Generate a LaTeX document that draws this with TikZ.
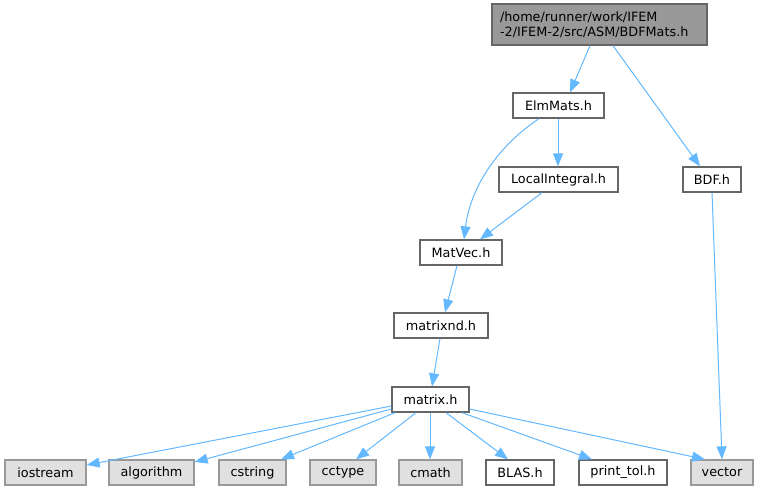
\documentclass[tikz,border=0pt]{standalone}
\usepackage{fontspec}
\setmainfont{DejaVu Sans}
\usetikzlibrary{arrows.meta}
\definecolor{edgeblue}{HTML}{63B8FF}
\definecolor{grayfill}{HTML}{E0E0E0}
\definecolor{grayborder}{HTML}{999999}
\definecolor{darkborder}{HTML}{666666}
\definecolor{topfill}{HTML}{999999}
\tikzset{
  box/.style={draw=darkborder, fill=white, line width=1.3pt, inner sep=0pt, minimum height=25pt, font=\fontsize{12.8}{15.5}\selectfont, text=black},
  sysbox/.style={box, draw=grayborder, fill=grayfill},
  topbox/.style={box, fill=topfill, draw=darkborder},
  edge/.style={draw=edgeblue, line width=1pt, -{Triangle[length=13pt,width=10pt]}},
}
\begin{document}
\begin{tikzpicture}[x=1pt,y=-1pt]
\useasboundingbox (0,0) rectangle (759,491);
\node[topbox, minimum width=215pt, minimum height=41pt, inner xsep=8pt, text width=199pt, align=left] (top) at (599.5,24.5) {/home/runner/work/IFEM\\-2/IFEM-2/src/ASM/BDFMats.h};
\node[box, minimum width=91pt] (elm) at (558.5,105.5) {ElmMats.h};
\node[box, minimum width=119pt] (loc) at (558.5,179.5) {LocalIntegral.h};
\node[box, minimum width=58pt] (bdf) at (712,179.5) {BDF.h};
\node[box, minimum width=82pt] (matvec) at (461,252.5) {MatVec.h};
\node[box, minimum width=94pt] (matnd) at (441,325.5) {matrixnd.h};
\node[box, minimum width=77pt] (matrix) at (430.5,399.5) {matrix.h};
\node[sysbox, minimum width=81pt] (iostream) at (45.5,472.5) {iostream};
\node[sysbox, minimum width=85pt] (algorithm) at (151.5,472.5) {algorithm};
\node[sysbox, minimum width=67pt] (cstring) at (252.5,472.5) {cstring};
\node[sysbox, minimum width=66pt] (cctype) at (343,472.5) {cctype};
\node[sysbox, minimum width=63pt] (cmath) at (430.5,472.5) {cmath};
\node[box, minimum width=68pt] (blas) at (520,472.5) {BLAS.h};
\node[box, minimum width=88pt] (printtol) at (623,472.5) {print\_tol.h};
\node[sysbox, minimum width=62pt] (vector) at (722,472.5) {vector};

\draw[edge] (top.south -| 590,0) -- (elm.north -| 570,0);
\draw[edge] (top.south -| 613,0) -- (bdf.north -| 700,0);
\draw[edge] (elm.south -| 558,0) -- (loc.north -| 558,0);
\draw[edge] (elm.south -| 539,0) .. controls (495,148) and (470,190) .. (matvec.north -| 464,0);
\draw[edge] (loc.south -| 542,0) -- (matvec.north -| 480,0);
\draw[edge] (bdf.south -| 712,0) -- (vector.north -| 722,0);
\draw[edge] (matvec.south -| 457,0) -- (matnd.north -| 445,0);
\draw[edge] (matnd.south -| 440,0) -- (matrix.north -| 432,0);
\draw[edge] (matrix.west |- 0,406) -- (iostream.east |- 0,465);
\draw[edge] (matrix.west |- 0,409) -- (algorithm.east |- 0,462);
\draw[edge] (matrix.south -| 395,0) -- (cstring.north -| 281,0);
\draw[edge] (matrix.south -| 416,0) -- (cctype.north -| 356,0);
\draw[edge] (matrix.south -| 430,0) -- (cmath.north -| 430,0);
\draw[edge] (matrix.south -| 446,0) -- (blas.north -| 508,0);
\draw[edge] (matrix.south -| 462,0) -- (printtol.north -| 592,0);
\draw[edge] (matrix.east |- 0,409) -- (vector.north -| 705,0);
\end{tikzpicture}
\end{document}
